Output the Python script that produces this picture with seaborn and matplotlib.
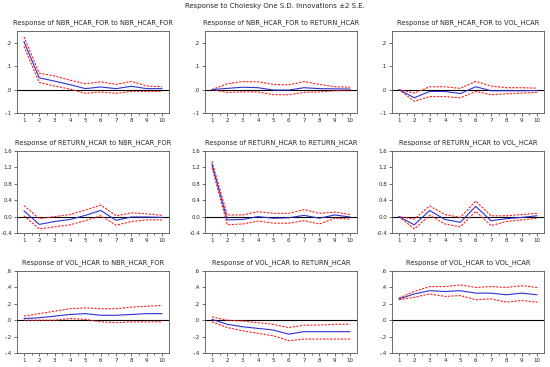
import numpy as np
import pandas as pd
import matplotlib
matplotlib.use("Agg")
import matplotlib.pyplot as plt
import seaborn as sns
from matplotlib.ticker import FixedLocator, MultipleLocator

sns.set_style("white")
plt.rcParams['font.family'] = ['DejaVu Sans']

periods = list(range(1, 11))
variables = ["NBR_HCAR_FOR", "RETURN_HCAR", "VOL_HCAR"]

# response / upper band / lower band, row = responding variable, col = shock
resp = {
    (0, 0): [0.205, 0.05, 0.036, 0.021, 0.004, 0.011, 0.004, 0.014, 0.004, 0.004],
    (0, 1): [0.0, 0.005, 0.01, 0.008, -0.002, -0.002, 0.008, 0.004, 0.003, 0.002],
    (0, 2): [0.0, -0.035, -0.008, -0.008, -0.017, 0.012, -0.005, -0.005, -0.005, -0.004],
    (1, 0): [0.14, -0.19, -0.12, -0.07, 0.03, 0.15, -0.09, -0.01, -0.01, -0.02],
    (1, 1): [1.28, -0.08, -0.07, 0.0, -0.04, -0.03, 0.03, -0.04, 0.04, -0.01],
    (1, 2): [0.0, -0.2, 0.15, -0.07, -0.14, 0.25, -0.1, -0.05, -0.02, 0.02],
    (2, 0): [0.02, 0.03, 0.05, 0.07, 0.08, 0.06, 0.06, 0.07, 0.08, 0.08],
    (2, 1): [0.01, -0.05, -0.08, -0.1, -0.12, -0.17, -0.14, -0.14, -0.14, -0.14],
    (2, 2): [0.26, 0.32, 0.36, 0.35, 0.36, 0.33, 0.33, 0.31, 0.33, 0.31],
}
upper = {
    (0, 0): [0.225, 0.07, 0.058, 0.04, 0.025, 0.033, 0.022, 0.035, 0.015, 0.012],
    (0, 1): [0.0, 0.025, 0.034, 0.033, 0.022, 0.02, 0.034, 0.022, 0.012, 0.01],
    (0, 2): [0.0, -0.015, 0.012, 0.012, 0.005, 0.035, 0.015, 0.008, 0.008, 0.006],
    (1, 0): [0.27, -0.05, 0.0, 0.05, 0.16, 0.28, 0.02, 0.09, 0.07, 0.03],
    (1, 1): [1.35, 0.04, 0.04, 0.12, 0.08, 0.08, 0.17, 0.08, 0.11, 0.05],
    (1, 2): [0.0, -0.06, 0.26, 0.05, -0.02, 0.38, 0.02, 0.02, 0.05, 0.08],
    (2, 0): [0.05, 0.08, 0.11, 0.14, 0.15, 0.14, 0.14, 0.16, 0.17, 0.18],
    (2, 1): [0.04, 0.0, -0.01, -0.03, -0.05, -0.09, -0.06, -0.06, -0.05, -0.05],
    (2, 2): [0.27, 0.35, 0.41, 0.41, 0.43, 0.40, 0.41, 0.40, 0.42, 0.40],
}
lower = {
    (0, 0): [0.185, 0.03, 0.015, 0.002, -0.016, -0.01, -0.016, -0.008, -0.008, -0.008],
    (0, 1): [0.0, -0.012, -0.01, -0.01, -0.022, -0.022, -0.012, -0.01, -0.005, -0.005],
    (0, 2): [0.0, -0.05, -0.03, -0.03, -0.035, -0.008, -0.022, -0.018, -0.015, -0.012],
    (1, 0): [0.02, -0.3, -0.25, -0.2, -0.1, 0.02, -0.21, -0.12, -0.08, -0.08],
    (1, 1): [1.2, -0.2, -0.18, -0.11, -0.16, -0.16, -0.1, -0.18, -0.04, -0.06],
    (1, 2): [0.0, -0.3, 0.03, -0.18, -0.25, 0.13, -0.22, -0.12, -0.08, -0.04],
    (2, 0): [0.0, 0.0, 0.0, 0.02, 0.01, -0.02, -0.03, -0.02, -0.02, -0.02],
    (2, 1): [-0.02, -0.09, -0.13, -0.16, -0.19, -0.25, -0.23, -0.23, -0.23, -0.23],
    (2, 2): [0.25, 0.28, 0.32, 0.29, 0.30, 0.25, 0.26, 0.22, 0.24, 0.22],
}

row_ylim = [(-0.1, 0.25), (-0.4, 1.6), (-0.4, 0.6)]
row_ticks = [[-0.1, 0.0, 0.1, 0.2], [-0.4, 0.0, 0.4, 0.8, 1.2, 1.6],
             [-0.4, -0.2, 0.0, 0.2, 0.4, 0.6]]
row_ticklabels = [["-.1", ".0", ".1", ".2"],
                  ["-0.4", "0.0", "0.4", "0.8", "1.2", "1.6"],
                  ["-.4", "-.2", ".0", ".2", ".4", ".6"]]

fig = plt.figure(figsize=(5.5, 3.67), dpi=100)
W, H = 550, 367
col_left = [17, 205, 392]
row_top = [31, 151, 271]
aw, ah = 152, 82

fig.text(0.5, 1 - 6 / H, "Response to Cholesky One S.D. Innovations \u00b12 S.E.",
         ha="center", va="center", fontsize=5)

for r in range(3):
    for c in range(3):
        ax = fig.add_axes([col_left[c] / W, 1 - (row_top[r] + ah) / H, aw / W, ah / H])
        df = pd.DataFrame({"period": periods, "resp": resp[(r, c)],
                           "up": upper[(r, c)], "lo": lower[(r, c)]})
        ax.axhline(0, color="black", lw=0.8, zorder=1)
        sns.lineplot(data=df, x="period", y="up", ax=ax, color="#ff2020",
                     lw=0.8, linestyle=(0, (2, 1.2)))
        sns.lineplot(data=df, x="period", y="lo", ax=ax, color="#ff2020",
                     lw=0.8, linestyle=(0, (2, 1.2)))
        sns.lineplot(data=df, x="period", y="resp", ax=ax, color="#3030d0", lw=0.8)
        ax.set_xlim(0.55, 10.45)
        ax.set_ylim(*row_ylim[r])
        ax.set_xticks(periods)
        ax.set_xticklabels([str(p) for p in periods])
        ax.xaxis.set_minor_locator(MultipleLocator(0.5))
        ax.yaxis.set_major_locator(FixedLocator(row_ticks[r]))
        ax.set_yticklabels(row_ticklabels[r])
        ax.tick_params(axis="both", which="major", labelsize=4, length=2, width=0.5,
                       pad=1.5, direction="out", color="#333333",
                       bottom=True, left=True)
        ax.tick_params(axis="x", which="minor", length=1.5, width=0.5,
                       direction="out", color="#333333", bottom=True)
        ax.set_xlabel("")
        ax.set_ylabel("")
        for s in ax.spines.values():
            s.set_color("#555555")
            s.set_linewidth(0.6)
        ax.set_title(f"Response of {variables[r]} to {variables[c]}",
                     fontsize=4.8, pad=5)

fig.savefig("out.png", dpi=100)
